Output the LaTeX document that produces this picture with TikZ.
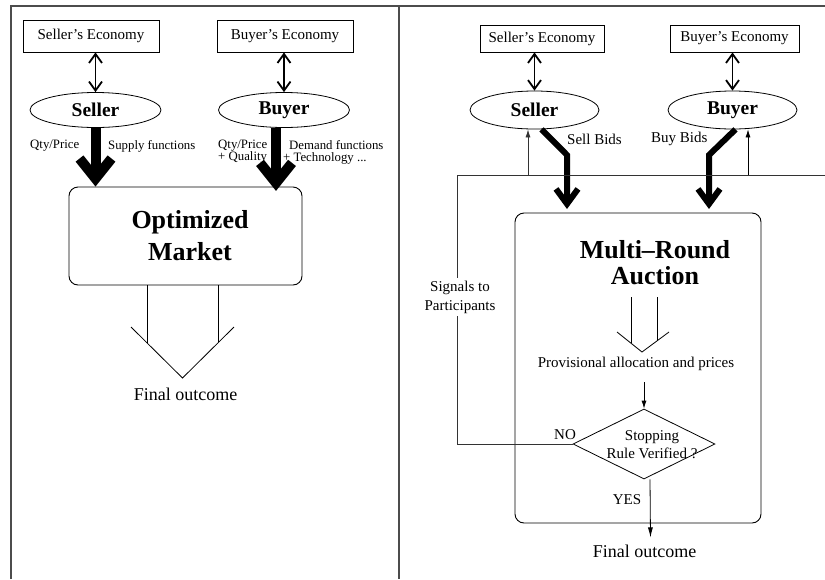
\documentclass[tikz,border=0pt]{standalone}
\usepackage{fontspec}
\setmainfont{Liberation Serif}
\usetikzlibrary{arrows.meta,shapes.geometric}
\begin{document}
\begin{tikzpicture}[x=1pt,y=-1pt,
  box/.style={draw, line width=0.9pt, inner sep=0pt, font=\fontsize{15}{16}\selectfont},
  ell/.style={draw, ellipse, line width=0.8pt, inner sep=0pt, minimum width=131pt, minimum height=35pt, font=\fontsize{19.5}{20}\selectfont\bfseries},
  dbl/.style={line width=1.8pt, {Straight Barb[length=9pt,width=13pt]}-{Straight Barb[length=9pt,width=13pt]}},
  thickL/.style={line width=10pt, -{Straight Barb[length=20pt,width=32pt]}},
  thickR/.style={line width=6pt, line join=miter, -{Straight Barb[length=15pt,width=22pt]}},
  thin/.style={line width=0.8pt, -{Latex[length=8pt,width=5pt]}},
  plain/.style={line width=0.8pt},
  frame/.style={line width=1.3pt, black!70},
  lab/.style={font=\fontsize{12.8}{12}\selectfont, inner sep=0pt, align=left},
  txt/.style={font=\fontsize{15}{16}\selectfont, inner sep=0pt},
  fin/.style={font=\fontsize{18}{18}\selectfont, inner sep=0pt},
  rbox/.style={draw, rounded corners=9pt, line width=0.9pt},
  big/.style={font=\fontsize{26}{32}\selectfont\bfseries, align=center, inner sep=0pt}
]
\useasboundingbox (0,0) rectangle (825,579);
% frame
\draw[frame] (11,579) -- (11,6) -- (825,6);
\draw[frame] (399,6) -- (399,579);

% ---------- left panel ----------
\node[box, minimum width=136pt, minimum height=32pt] (lse) at (91,36) {Seller's Economy};
\node[box, minimum width=136pt, minimum height=32pt] (lbe) at (285,36) {Buyer's Economy};
\node[ell] (ls) at (95.5,110) {Seller};
\node[ell] (lb) at (284,110) {Buyer};
\draw[dbl] (ls.north |- lse.south) -- (ls.north);
\draw[dbl] (lb.north |- lbe.south) -- (lb.north);

\node[rbox, minimum width=233pt, minimum height=98pt] (om) at (185.5,236) {};
\node[big] (omt) at (190,236) {Optimized\\Market};

\draw[thickL] (ls.south) -- (ls.south |- om.north);
\draw[thickL] ([xshift=-8pt]lb.south) -- ++(0,63);

\node[lab, anchor=west] (l1) at (30,146) {Qty/Price};
\node[lab, anchor=west] (l2) at (108,146) {Supply functions};
\node[lab, anchor=north west] (l3) at (218,140) {Qty/Price\\+ Quality};
\node[lab, anchor=north west] (l5) at (283,140) {\hspace*{6pt}Demand functions\\+ Technology ...};

% hollow arrow
\draw[plain] (147,285) -- (147,343);
\draw[plain] (218,285) -- (218,342);
\draw[plain] (131,327) -- (182.5,378) -- (234,327);
\node[fin] (lfo) at (185.5,394) {Final outcome};

% ---------- right panel ----------
\node[box, minimum width=124pt, minimum height=27pt] (rse) at (542,38.5) {Seller's Economy};
\node[box, minimum width=129pt, minimum height=27pt] (rbe) at (734.5,38.5) {Buyer's Economy};
\node[ell, minimum width=129pt, minimum height=38pt] (rs) at (534.5,110) {Seller};
\node[ell, minimum width=129pt, minimum height=38pt] (rb) at (732.5,110) {Buyer};
\draw[dbl] (rs.north |- rse.south) -- (rs.north);
\draw[dbl] (rb.north |- rbe.south) -- (rb.north);

\node[rbox, minimum width=246pt, minimum height=310pt] (ab) at (638,368) {};
\node[big, font=\fontsize{26}{26}\selectfont\bfseries] (abt) at (655,263) {Multi--Round\\Auction};

\draw[thickR] ([xshift=7pt]rs.south) -- (567,155) -- (567,209);
\draw[thickR] ([xshift=3pt]rb.south) -- (709,155) -- (709,209);
\node[txt, anchor=west] (sb) at (567,139) {Sell Bids};
\node[txt, anchor=west] (bb) at (651,139) {Buy Bids};

% hollow arrow inside auction
\draw[plain] (631,297) -- (631,343);
\draw[plain] (657,297) -- (657,341);
\draw[plain] (617,332) -- (642,352) -- (669,332);
\node[txt] (pa) at (636,364) {Provisional allocation and prices};

\node[draw, diamond, aspect=2, minimum width=142pt, minimum height=70pt, inner sep=0pt, line width=0.8pt] (dm) at (644,444) {};
\node[txt, align=center, font=\fontsize{15}{18}\selectfont] (dmt) at (652,445) {Stopping\\Rule Verified ?};
\coordinate (pa1) at (644,382);
\draw[thin] (pa1) -- (dm.north);

\node[txt] (no) at (565,435) {NO};
\node[txt] (yes) at (627,500) {YES};
\node[fin] (rfo) at (644.5,551) {Final outcome};
\draw[line width=0.8pt, -{Latex[length=10pt,width=5pt]}] ([xshift=6pt]dm.south) -- ([xshift=6pt,yshift=7pt]rfo.north);

% feedback
\coordinate (fbc) at (457,444);
\coordinate (fbt) at (457,175);
\coordinate (fbr) at (825,175);
\draw[plain, black!80] (dm.west) -- (fbc) -- (fbt) -- (fbr);
\draw[thin, black!80] (528,175) -- ([xshift=-6.5pt]rs.south);
\draw[thin] (748,175) -- ([xshift=15.5pt]rb.south);
\node[txt, fill=white, align=center, font=\fontsize{15}{19}\selectfont, inner sep=3pt] (sig) at (460,297) {Signals to\\Participants};
\end{tikzpicture}
\end{document}
